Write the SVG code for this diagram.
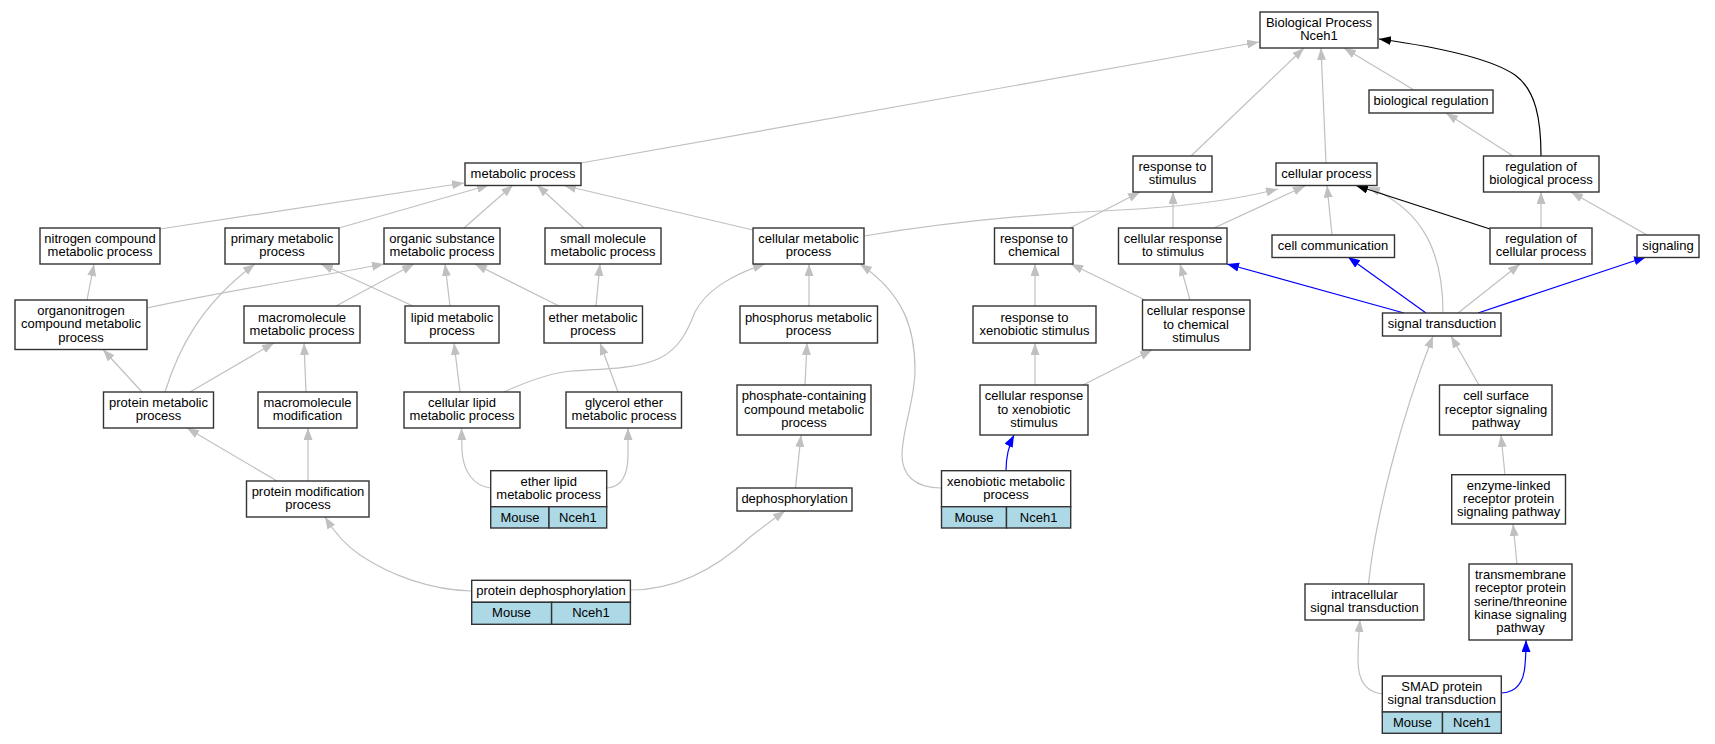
<svg xmlns="http://www.w3.org/2000/svg" width="1715" height="744" viewBox="0 0 1715 744">
<style>
.n rect{fill:#fff;stroke:#333;stroke-width:1.4}
.n rect.c{fill:#add8e6}
.n line{stroke:#333;stroke-width:1.4}
text{font-family:"Liberation Sans",Arial,sans-serif;font-size:13px;text-anchor:middle;fill:#000}
.e path{fill:none;stroke-width:1.2}
.g{stroke:#c0c0c0;marker-end:url(#ag)}
.k{stroke:#000;marker-end:url(#ak)}
.b{stroke:#0000ff;marker-end:url(#ab)}
</style>
<defs>
<marker id="ag" markerWidth="13" markerHeight="10" refX="12" refY="4.5" orient="auto" markerUnits="userSpaceOnUse"><path d="M0,0 L12,4.5 L0,9 z" fill="#c0c0c0"/></marker>
<marker id="ak" markerWidth="13" markerHeight="10" refX="12" refY="4.5" orient="auto" markerUnits="userSpaceOnUse"><path d="M0,0 L12,4.5 L0,9 z" fill="#000"/></marker>
<marker id="ab" markerWidth="13" markerHeight="10" refX="12" refY="4.5" orient="auto" markerUnits="userSpaceOnUse"><path d="M0,0 L12,4.5 L0,9 z" fill="#0000ff"/></marker>
</defs>
<rect width="1715" height="744" fill="#fff"/>
<g id="edges" class="e">
<path class="g" d="M581,163 L1259,42"/>
<path class="g" d="M1191,156 L1304,48"/>
<path class="g" d="M1326,163 L1321,48"/>
<path class="g" d="M1414,90 L1344,48"/>
<path class="k" d="M1541,156 C1541,120 1536,90 1515,75 C1490,58 1430,46 1379,39"/>
<path class="g" d="M1513,156 L1446,113"/>
<path class="g" d="M160,229 L464,183"/>
<path class="g" d="M339,228 L489,185"/>
<path class="g" d="M464,228 L513,185"/>
<path class="g" d="M584,228 L537,185"/>
<path class="g" d="M753,230 L564,185.5"/>
<path class="g" d="M864,236 C960,220 1050,213 1120,210 C1180,207 1235,200 1278,189"/>
<path class="g" d="M1070,228 L1140,192"/>
<path class="g" d="M1173,228 L1173,192"/>
<path class="g" d="M1214,228 L1305,186"/>
<path class="g" d="M1332,235 L1327,185.5"/>
<path class="g" d="M1443,313 C1443,255 1425,210 1368,187"/>
<path class="k" d="M1490,229 L1356,185.5"/>
<path class="g" d="M1541,228 L1541,192"/>
<path class="g" d="M1647,235 L1571,192"/>
<path class="b" d="M1404,313 L1227,264"/>
<path class="b" d="M1426,313 L1348,257"/>
<path class="g" d="M1458,313 L1520,264"/>
<path class="b" d="M1478,313 L1646,257"/>
<path class="g" d="M1145,300 L1071,264"/>
<path class="g" d="M1190,300 L1180,264"/>
<path class="g" d="M1035,306 L1035,264"/>
<path class="g" d="M87,300 L94,264"/>
<path class="g" d="M147,308 C230,290 300,280 384,264"/>
<path class="g" d="M336,306 L414,264"/>
<path class="g" d="M413,306 L321,264"/>
<path class="g" d="M450,306 L445,264"/>
<path class="g" d="M559,306 L475,264"/>
<path class="g" d="M596,306 L600,264"/>
<path class="g" d="M809,306 L809,264"/>
<path class="g" d="M504,392 C530,380 550,373 572,371 C610,369 640,368 660,358 C680,348 688,330 695,312 C705,292 730,275 765,264"/>
<path class="g" d="M941,488 C915,488 902,475 902,455 C902,430 915,400 915,370 C915,330 905,295 860,264"/>
<path class="g" d="M142,392 L103,349.5"/>
<path class="g" d="M165,392 C178,350 200,305 255,264"/>
<path class="g" d="M190,392 L274,343"/>
<path class="g" d="M306,392 L304,343"/>
<path class="g" d="M460,392 L454,343"/>
<path class="g" d="M618,392 L600,343"/>
<path class="g" d="M805,385 L807,343"/>
<path class="g" d="M1035,385 L1035,343"/>
<path class="g" d="M1083,385 L1152,350"/>
<path class="g" d="M1479,385 L1451,336"/>
<path class="g" d="M1368.5,584 C1375,520 1400,420 1433,336"/>
<path class="g" d="M1505,475 L1501,435"/>
<path class="g" d="M1517,564 L1513,524"/>
<path class="g" d="M1382,694 C1366,692 1358,680 1358,660 C1358,645 1359,632 1360,620"/>
<path class="b" d="M1502,693 C1518,692 1524,680 1525,665 C1526,655 1526,648 1526,640"/>
<path class="g" d="M277,481 L187,428"/>
<path class="g" d="M308,481 L308,428"/>
<path class="g" d="M490.5,488 C474,486 463,472 462,450 L461.5,428"/>
<path class="g" d="M607,488 C622,487 628,475 628,455 L628,428"/>
<path class="g" d="M471.5,591 C430,590 390,575 360,555 C345,545 333,530 325,517"/>
<path class="g" d="M630.5,590 C680,590 720,565 750,537 C765,525 775,518 785,511"/>
<path class="g" d="M795.5,488 L801,435"/>
<path class="b" d="M1006,470.7 C1006,455 1009,445 1014,435"/>
</g>
<g id="bio_process" class="n"><rect x="1260" y="12" width="118" height="36"/><text x="1319" y="27">Biological Process</text><text x="1319" y="40">Nceh1</text></g>
<g id="biological_regulation" class="n"><rect x="1369" y="90" width="124" height="23"/><text x="1431" y="105">biological regulation</text></g>
<g id="metabolic_process" class="n"><rect x="465" y="163" width="116" height="22.5"/><text x="523" y="177.5">metabolic process</text></g>
<g id="response_to_stimulus" class="n"><rect x="1133" y="156" width="79" height="36"/><text x="1172.5" y="171">response to</text><text x="1172.5" y="184">stimulus</text></g>
<g id="cellular_process" class="n"><rect x="1276" y="163" width="101" height="22.5"/><text x="1326.5" y="177.5">cellular process</text></g>
<g id="regulation_of_biological_process" class="n"><rect x="1483.5" y="156" width="115.5" height="36"/><text x="1541" y="171">regulation of</text><text x="1541" y="184">biological process</text></g>
<g id="nitrogen_compound_metabolic_process" class="n"><rect x="40" y="228" width="120" height="36"/><text x="100" y="243">nitrogen compound</text><text x="100" y="256">metabolic process</text></g>
<g id="primary_metabolic_process" class="n"><rect x="225" y="228" width="114" height="36"/><text x="282" y="243">primary metabolic</text><text x="282" y="256">process</text></g>
<g id="organic_substance_metabolic_process" class="n"><rect x="384" y="228" width="116" height="36"/><text x="442" y="243">organic substance</text><text x="442" y="256">metabolic process</text></g>
<g id="small_molecule_metabolic_process" class="n"><rect x="545" y="228" width="116" height="36"/><text x="603" y="243">small molecule</text><text x="603" y="256">metabolic process</text></g>
<g id="cellular_metabolic_process" class="n"><rect x="753" y="228" width="111" height="36"/><text x="808.5" y="243">cellular metabolic</text><text x="808.5" y="256">process</text></g>
<g id="response_to_chemical" class="n"><rect x="994.5" y="228" width="78.5" height="36"/><text x="1034" y="243">response to</text><text x="1034" y="256">chemical</text></g>
<g id="cellular_response_to_stimulus" class="n"><rect x="1118.5" y="228" width="108.5" height="36"/><text x="1173" y="243">cellular response</text><text x="1173" y="256">to stimulus</text></g>
<g id="cell_communication" class="n"><rect x="1272" y="235" width="122.5" height="22.5"/><text x="1333" y="249.5">cell communication</text></g>
<g id="regulation_of_cellular_process" class="n"><rect x="1490" y="228" width="102" height="36"/><text x="1541" y="243">regulation of</text><text x="1541" y="256">cellular process</text></g>
<g id="signaling" class="n"><rect x="1637" y="235" width="62" height="22.5"/><text x="1668" y="249.5">signaling</text></g>
<g id="organonitrogen_compound_metabolic_process" class="n"><rect x="15" y="300" width="132" height="49.5"/><text x="81" y="315">organonitrogen</text><text x="81" y="328">compound metabolic</text><text x="81" y="341.5">process</text></g>
<g id="macromolecule_metabolic_process" class="n"><rect x="244" y="306" width="116" height="37"/><text x="302" y="321.5">macromolecule</text><text x="302" y="335">metabolic process</text></g>
<g id="lipid_metabolic_process" class="n"><rect x="405" y="306" width="94" height="37"/><text x="452" y="321.5">lipid metabolic</text><text x="452" y="335">process</text></g>
<g id="ether_metabolic_process" class="n"><rect x="544" y="306" width="98.5" height="37"/><text x="593" y="321.5">ether metabolic</text><text x="593" y="335">process</text></g>
<g id="phosphorus_metabolic_process" class="n"><rect x="740" y="306" width="137.5" height="37"/><text x="808.5" y="321.5">phosphorus metabolic</text><text x="808.5" y="335">process</text></g>
<g id="response_to_xenobiotic_stimulus" class="n"><rect x="973" y="306" width="123" height="37"/><text x="1034.5" y="321.5">response to</text><text x="1034.5" y="335">xenobiotic stimulus</text></g>
<g id="cellular_response_to_chemical_stimulus" class="n"><rect x="1142.5" y="300" width="107.5" height="50"/><text x="1196" y="315">cellular response</text><text x="1196" y="328.5">to chemical</text><text x="1196" y="341.5">stimulus</text></g>
<g id="signal_transduction" class="n"><rect x="1382.5" y="313" width="118.5" height="23"/><text x="1442" y="328">signal transduction</text></g>
<g id="protein_metabolic_process" class="n"><rect x="103.5" y="392" width="110" height="36"/><text x="158.5" y="407">protein metabolic</text><text x="158.5" y="420">process</text></g>
<g id="macromolecule_modification" class="n"><rect x="258" y="392" width="99" height="36"/><text x="307.5" y="407">macromolecule</text><text x="307.5" y="420">modification</text></g>
<g id="cellular_lipid_metabolic_process" class="n"><rect x="404" y="392" width="116" height="36"/><text x="462" y="407">cellular lipid</text><text x="462" y="420">metabolic process</text></g>
<g id="glycerol_ether_metabolic_process" class="n"><rect x="566" y="392" width="115.5" height="36"/><text x="624" y="407">glycerol ether</text><text x="624" y="420">metabolic process</text></g>
<g id="phosphate_containing_compound_metabolic_process" class="n"><rect x="737" y="385" width="134" height="50"/><text x="804" y="400">phosphate-containing</text><text x="804" y="413.5">compound metabolic</text><text x="804" y="427">process</text></g>
<g id="cellular_response_to_xenobiotic_stimulus" class="n"><rect x="980" y="385" width="108" height="50"/><text x="1034" y="400">cellular response</text><text x="1034" y="413.5">to xenobiotic</text><text x="1034" y="427">stimulus</text></g>
<g id="cell_surface_receptor_signaling_pathway" class="n"><rect x="1439.5" y="385" width="112.5" height="50"/><text x="1496" y="400">cell surface</text><text x="1496" y="413.5">receptor signaling</text><text x="1496" y="427">pathway</text></g>
<g id="protein_modification_process" class="n"><rect x="246.5" y="481" width="122.5" height="36"/><text x="308" y="496">protein modification</text><text x="308" y="509">process</text></g>
<g id="ether_lipid_metabolic_process" class="n"><rect x="490.7" y="470.7" width="116" height="36"/><rect class="c" x="490.7" y="506.7" width="58.3" height="21.3"/><rect class="c" x="549" y="506.7" width="57.7" height="21.3"/><text x="548.7" y="485.5">ether lipid</text><text x="548.7" y="499">metabolic process</text><text x="519.9" y="521.5">Mouse</text><text x="577.9" y="521.5">Nceh1</text></g>
<g id="dephosphorylation" class="n"><rect x="737" y="488" width="115" height="23"/><text x="794.5" y="503">dephosphorylation</text></g>
<g id="xenobiotic_metabolic_process" class="n"><rect x="941.5" y="470.7" width="129.2" height="36"/><rect class="c" x="941.5" y="506.7" width="65" height="21.3"/><rect class="c" x="1006.5" y="506.7" width="64.2" height="21.3"/><text x="1006" y="485.5">xenobiotic metabolic</text><text x="1006" y="499">process</text><text x="974" y="521.5">Mouse</text><text x="1038.6" y="521.5">Nceh1</text></g>
<g id="enzyme_linked_receptor_protein_signaling_pathway" class="n"><rect x="1451.7" y="474.7" width="113.8" height="49.3"/><text x="1508.6" y="489.5">enzyme-linked</text><text x="1508.6" y="503">receptor protein</text><text x="1508.6" y="516.3">signaling pathway</text></g>
<g id="protein_dephosphorylation" class="n"><rect x="471.7" y="580.3" width="158.7" height="22"/><rect class="c" x="471.7" y="602.3" width="79.9" height="22"/><rect class="c" x="551.6" y="602.3" width="78.8" height="22"/><text x="551" y="595">protein dephosphorylation</text><text x="511.6" y="617">Mouse</text><text x="591" y="617">Nceh1</text></g>
<g id="intracellular_signal_transduction" class="n"><rect x="1305" y="584" width="119" height="36"/><text x="1364.5" y="599">intracellular</text><text x="1364.5" y="612">signal transduction</text></g>
<g id="transmembrane_receptor_protein_serine_threonine_kinase_signaling_pathway" class="n"><rect x="1469" y="564" width="103" height="76"/><text x="1520.5" y="579">transmembrane</text><text x="1520.5" y="592.2">receptor protein</text><text x="1520.5" y="605.5">serine/threonine</text><text x="1520.5" y="618.8">kinase signaling</text><text x="1520.5" y="632">pathway</text></g>
<g id="smad_protein_signal_transduction" class="n"><rect x="1382.3" y="676" width="119" height="36"/><rect class="c" x="1382.3" y="712" width="60.2" height="21.3"/><rect class="c" x="1442.5" y="712" width="58.8" height="21.3"/><text x="1441.8" y="691">SMAD protein</text><text x="1441.8" y="704.2">signal transduction</text><text x="1412.4" y="726.5">Mouse</text><text x="1471.9" y="726.5">Nceh1</text></g>
</svg>
